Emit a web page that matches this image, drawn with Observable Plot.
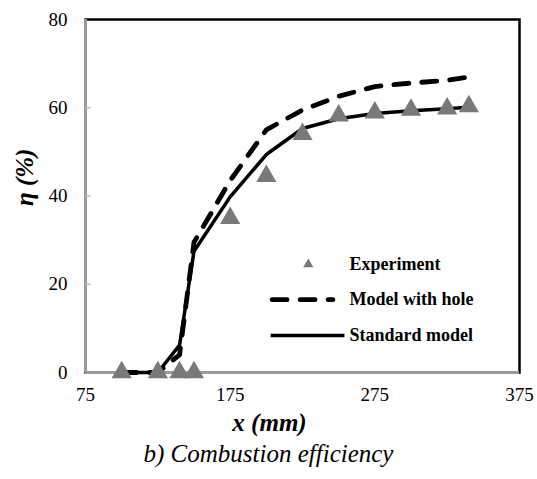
<!DOCTYPE html>
<html>
<head>
<meta charset="utf-8">
<script src="https://cdn.jsdelivr.net/npm/d3@7"></script>
<script src="https://cdn.jsdelivr.net/npm/@observablehq/plot@0.6"></script>
<style>
  html, body { margin: 0; padding: 0; background: #fff; }
  svg { display: block; }
</style>
</head>
<body>
<div id="chart"></div>
<script>
// Experimental data
const expX = [100, 125, 140, 150, 175, 200, 225, 250, 275, 300, 325, 340];
const expY = [0, 0, 0, 0, 35, 44.5, 54, 58.2, 58.9, 59.5, 59.8, 60.3];
// Models
const modelX = [100, 125, 140, 150, 175, 200, 225, 250, 275, 300, 325, 340];
const standardY = [0, 0, 6.2, 27.5, 39.8, 49.4, 55.3, 57.5, 58.7, 59.3, 59.8, 60.1];
const holeY = [0, 0, 4, 29.5, 43.5, 55, 59.5, 62.6, 64.8, 65.6, 66.2, 67];
// Axes
const xTicks = [75, 175, 275, 375];
const yTicks = [0, 20, 40, 60, 80];
const seriesNames = ["Experiment", "Model with hole", "Standard model"];
const xLabel = "x (mm)";
const yLabel = "η (%)";
const captionText = "b) Combustion efficiency";

const exp = expX.map((x, i) => ({x, y: expY[i]}));
const std = modelX.map((x, i) => ({x, y: standardY[i]}));
const hole = modelX.map((x, i) => ({x, y: holeY[i]}));

// legend layout (in chart units)
const legX1 = 204, legX2 = 250, legTextX = 257.5;
const legY = [24.5, 16.5, 8.4];
const xMin = 75;

const serif = "Liberation Serif";
const triColor = "#7a7878";

const chart = Plot.plot({
  width: 537,
  height: 479,
  marginTop: 19,
  marginLeft: 85,
  marginRight: 18,
  marginBottom: 107,
  style: {fontFamily: serif, fontSize: "19px", color: "#000", background: "#fff"},
  x: {domain: [75, 375], axis: null},
  y: {domain: [0, 80], axis: null},
  marks: [
    Plot.frame({stroke: "#000", strokeWidth: 2.5}),
    Plot.ruleX([xMin], {stroke: "#9a9a9a", strokeWidth: 3}),
    Plot.ruleY([0], {stroke: "#9a9a9a", strokeWidth: 3}),
    // inward tick marks on the y axis
    Plot.link(yTicks.slice(1, 4), {x1: () => xMin, x2: () => xMin + 3.5, y1: d => d, y2: d => d, stroke: "#bbb", strokeWidth: 1.5}),
    // tick labels
    Plot.text(yTicks, {x: () => xMin, y: d => d, text: d => String(d), dx: -18, textAnchor: "end", fontSize: 19}),
    Plot.text(xTicks, {x: d => d, y: () => 0, text: d => String(d), dy: 22, fontSize: 19}),
    Plot.line(hole, {x: "x", y: "y", stroke: "#000", strokeWidth: 4.8, strokeDasharray: "15,13", strokeLinecap: "round"}),
    Plot.line(std, {x: "x", y: "y", stroke: "#000", strokeWidth: 3.5}),
    Plot.dot(exp, {x: "x", y: "y", symbol: "triangle", r: 7.5, fill: triColor, stroke: "none"}),
    // legend
    Plot.dot([0], {x: () => (legX1 + legX2) / 2 + 2, y: () => legY[0], symbol: "triangle", r: 3.8, fill: triColor}),
    Plot.link([0], {x1: () => legX1, x2: () => legX2 - 4, y1: () => legY[1], y2: () => legY[1], stroke: "#000", strokeWidth: 4.8, strokeDasharray: "15,13", strokeLinecap: "round"}),
    Plot.link([0], {x1: () => legX1 - 1, x2: () => legX2 + 4, y1: () => legY[2], y2: () => legY[2], stroke: "#000", strokeWidth: 3.5}),
    Plot.text(seriesNames, {x: () => legTextX, y: (d, i) => legY[i], text: d => d, textAnchor: "start", fontWeight: "bold", fontSize: 18}),
    // axis labels and caption
    Plot.text([xLabel], {frameAnchor: "bottom", dx: -33, dy: 58, text: d => d, fontWeight: "bold", fontStyle: "italic", fontSize: 25}),
    Plot.text([captionText], {frameAnchor: "bottom", dx: -34, dy: 89, text: d => d, fontStyle: "italic", fontSize: 25}),
    Plot.text([yLabel], {frameAnchor: "left", dx: -61, dy: 10, rotate: -90, text: d => d, fontWeight: "bold", fontStyle: "italic", fontSize: 25})
  ]
});
d3.select(chart).selectAll("text").style("font-family", "Liberation Serif");
document.getElementById("chart").appendChild(chart);
</script>
</body>
</html>
